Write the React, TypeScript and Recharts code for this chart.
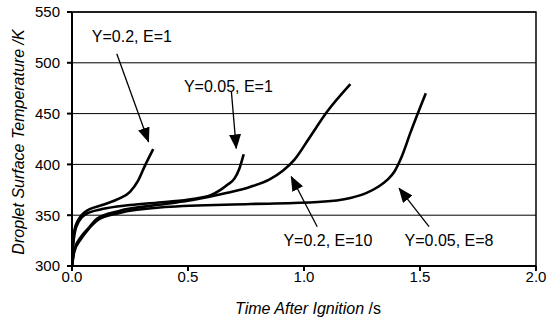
import React from "react";
import { LineChart, Line, XAxis, YAxis, CartesianGrid, ReferenceLine, ReferenceDot, ReferenceArea, Label } from "recharts";

// Series: Y=0.2, E=1
const tA = [0, 0.004, 0.01, 0.026, 0.055, 0.13, 0.2, 0.25, 0.285, 0.315, 0.35];
const TA = [300, 322, 335, 345, 353, 360, 366, 373, 384, 399, 415];
// Series: Y=0.05, E=1
const tB = [0, 0.005, 0.012, 0.03, 0.06, 0.13, 0.25, 0.4, 0.52, 0.6, 0.64, 0.67, 0.7, 0.72, 0.74];
const TB = [300, 320, 333, 344, 351, 356, 360, 363, 366, 370, 375, 380, 386, 395, 410];
// Series: Y=0.2, E=10
const tC = [0, 0.01, 0.04, 0.07, 0.11, 0.2, 0.4, 0.52, 0.67, 0.77, 0.85, 0.91, 0.96, 1.02, 1.1, 1.2];
const TC = [300, 316, 329, 337, 347, 354, 361, 365, 372, 378, 385, 394, 405, 425, 452, 479];
// Series: Y=0.05, E=8
const tD = [0, 0.01, 0.04, 0.07, 0.11, 0.2, 0.4, 0.77, 1.06, 1.2, 1.27, 1.32, 1.36, 1.39, 1.42, 1.46, 1.525];
const TD = [300, 314, 327, 336, 345, 352, 358, 361, 363, 367, 372, 378, 385, 393, 407, 432, 470];

const xTicks = [0, 0.5, 1.0, 1.5, 2.0];
const yTicks = [300, 350, 400, 450, 500, 550];

// Annotations (data units)
const labelTexts = ["Y=0.2, E=1", "Y=0.05, E=1", "Y=0.2, E=10", "Y=0.05, E=8"];
const labelX = [0.258, 0.674, 1.103, 1.625];
const labelY = [525.7, 477.2, 325.6, 325.6];
const arrowTailX = [0.193, 0.687, 1.057, 1.539];
const arrowTailY = [509, 471.6, 338.7, 338.7];
const arrowTipX = [0.33, 0.708, 0.945, 1.41];
const arrowTipY = [422.3, 415.8, 387.9, 376.5];

const mk = (ts: number[], vs: number[]) => ts.map((t, i) => ({ t, T: vs[i] }));
const series = [mk(tA, TA), mk(tB, TB), mk(tC, TC), mk(tD, TD)];

const FONT = "'Liberation Sans', Arial, sans-serif";

const YTitle = (props: any) => {
  const vb = props.viewBox || {};
  const cx = 18;
  const cy = vb.y + vb.height / 2 + 3;
  return (
    <text x={cx} y={cy} transform={`rotate(-90 ${cx} ${cy})`} textAnchor="middle" dominantBaseline="central" fontSize={16} fontFamily={FONT} fill="#000">
      <tspan fontStyle="italic">Droplet Surface Temperature /K</tspan>
    </text>
  );
};

const XTitle = (props: any) => {
  const vb = props.viewBox || {};
  const cx = vb.x + vb.width / 2 + 4;
  return (
    <text x={cx} y={314} textAnchor="middle" fontSize={16} fontFamily={FONT} fill="#000">
      <tspan fontStyle="italic">Time After Ignition </tspan>
      <tspan>/s</tspan>
    </text>
  );
};

export default function App() {
  return (
    <div style={{ position: "absolute", left: 0, top: 0, width: 547, height: 320, overflow: "hidden", background: "#fff" }}>
      <LineChart width={547} height={320} margin={{ top: 12, right: 11, bottom: 24, left: 22 }}>
        <defs>
          <marker id="arrowHead" markerUnits="userSpaceOnUse" markerWidth={15} markerHeight={12} refX={14} refY={6} orient="auto">
            <path d="M0,0 L15,6 L0,12 z" fill="#000" />
          </marker>
        </defs>
        <CartesianGrid vertical={false} stroke="#000" strokeWidth={1} />
        <XAxis
          type="number"
          dataKey="t"
          domain={[0, 2]}
          ticks={xTicks}
          tickFormatter={(v: number) => v.toFixed(1)}
          height={30}
          stroke="#000"
          strokeWidth={2}
          tickSize={5}
          tickMargin={0}
          tick={{ fontSize: 15, fontFamily: FONT, fill: "#000" }}
          allowDataOverflow
        >
          <Label content={<XTitle />} />
        </XAxis>
        <YAxis
          type="number"
          dataKey="T"
          domain={[300, 550]}
          ticks={yTicks}
          width={50}
          stroke="#000"
          strokeWidth={2}
          tickSize={5}
          tickMargin={7}
          tick={{ fontSize: 15, fontFamily: FONT, fill: "#000" }}
          allowDataOverflow
        >
          <Label content={<YTitle />} />
        </YAxis>
        <ReferenceArea x1={0} x2={2} y1={300} y2={550} fill="none" stroke="#000" strokeWidth={1.5} />
        {series.map((d, i) => (
          <Line key={i} data={d} dataKey="T" type="monotone" stroke="#000" strokeWidth={2.6} dot={false} isAnimationActive={false} />
        ))}
        {labelTexts.map((s, i) => (
          <ReferenceLine
            key={"a" + i}
            segment={[
              { x: arrowTailX[i], y: arrowTailY[i] },
              { x: arrowTipX[i], y: arrowTipY[i] },
            ]}
            stroke="#000"
            strokeWidth={1.3}
            markerEnd="url(#arrowHead)"
          />
        ))}
        {labelTexts.map((s, i) => (
          <ReferenceDot
            key={"l" + i}
            x={labelX[i]}
            y={labelY[i]}
            r={0}
            fill="none"
            stroke="none"
            label={{ value: s, position: "center", fontSize: 16, fontFamily: FONT, fill: "#000" }}
          />
        ))}
      </LineChart>
    </div>
  );
}
